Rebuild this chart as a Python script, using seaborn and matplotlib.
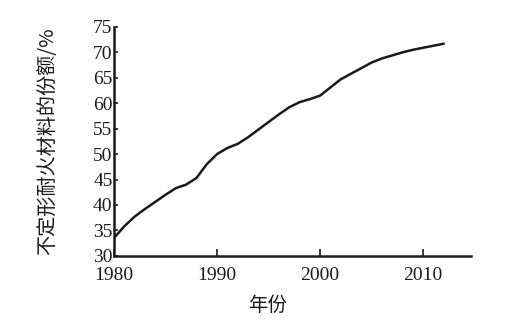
import pandas as pd
import seaborn as sns
import matplotlib.pyplot as plt

# values
years = list(range(1980, 2013))
share = [33.5, 35.8, 37.7, 39.2, 40.6, 42.0, 43.3, 44.0, 45.3, 48.0,
         50.0, 51.2, 52.0, 53.3, 54.8, 56.3, 57.8, 59.2, 60.2, 60.8,
         61.5, 63.1, 64.7, 65.8, 66.9, 68.0, 68.8, 69.4, 70.0, 70.5,
         70.9, 71.3, 71.7]
xticks = [1980, 1990, 2000, 2010]
yticks = list(range(30, 80, 5))

df = pd.DataFrame({"year": years, "share": share})

sns.set_style("ticks")
plt.rcParams['font.family'] = ['Liberation Serif', 'Noto Sans CJK SC', 'DejaVu Sans']

fig = plt.figure(figsize=(5.3, 3.28), dpi=100)
ax = fig.add_axes([0.215, 0.22, 0.673, 0.698])
sns.lineplot(data=df, x="year", y="share", color="#1a1a1a", linewidth=1.8, ax=ax)

ax.set_xlim(1980, 2014.6)
ax.set_ylim(30, 75)
ax.set_xticks(xticks)
ax.set_yticks(yticks)
ax.tick_params(axis="both", direction="in", labelsize=14, width=1.2, colors="#1a1a1a")
ax.tick_params(axis="x", length=5, pad=8)
ax.tick_params(axis="y", length=3, pad=1)
sns.despine(ax=ax)
for s in ["left", "bottom"]:
    ax.spines[s].set_linewidth(1.8)
    ax.spines[s].set_color("#1a1a1a")

ax.set_xlabel("年份", fontsize=14, family=['Noto Sans CJK SC', 'DejaVu Sans'], color="#1a1a1a")
ax.set_ylabel("不定形耐火材料的份额/%", fontsize=14.5, family=['Noto Sans CJK SC', 'DejaVu Sans'], color="#1a1a1a")
ax.xaxis.set_label_coords(0.432, -0.17)
ax.yaxis.set_label_coords(-0.157, 0.5)
ax.xaxis.label.set_va("top")

fig.savefig("out.png", dpi=100, facecolor="white")
